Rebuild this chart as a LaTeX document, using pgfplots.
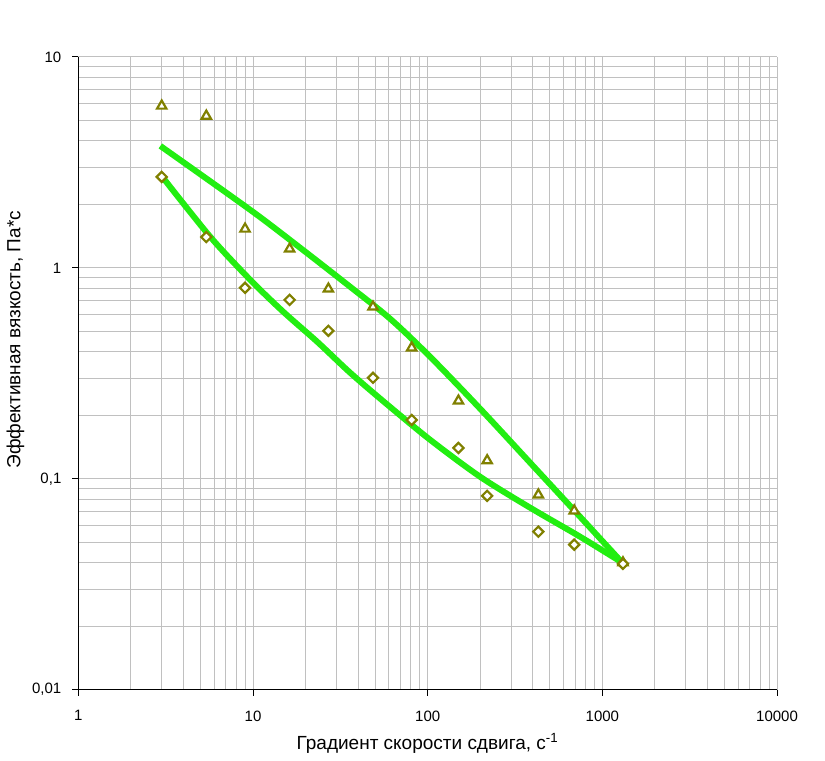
\documentclass[border=0pt]{standalone}
\usepackage{fontspec}
\setmainfont{Liberation Sans}
\usepackage{pgfplots}
\pgfplotsset{compat=1.18}
\definecolor{fitgreen}{RGB}{34,238,17}
\definecolor{markolive}{RGB}{128,128,0}
\definecolor{gridgray}{RGB}{192,192,192}

\begin{document}
\begin{tikzpicture}
\begin{axis}[
  scale only axis,
  width=349.5pt, height=316.5pt,
  xmode=log, ymode=log,
  xmin=1, xmax=10000, ymin=0.01, ymax=10,
  axis x line*=bottom, axis y line*=left,
  axis line style={-, black, line width=0.6pt},
  tick align=outside,
  major tick length=3pt, minor tick length=0pt,
  tick style={black, line width=0.5pt},
  grid=both,
  major grid style={gridgray, line width=0.5pt},
  minor grid style={gridgray, line width=0.5pt},
  xtick={1,10,100,1000,10000},
  xticklabels={1,10,100,1000,10000},
  ytick={0.01,0.1,1,10},
  yticklabels={{0,01},{0,1},1,10},
  ticklabel style={font=\fontsize{7.5}{9}\selectfont},
  xticklabel style={yshift=-4pt},
  yticklabel style={xshift=-2pt},
  xlabel={Градиент скорости сдвига, с\textsuperscript{-1}},
  ylabel={Эффективная вязкость, Па*с},
  label style={font=\fontsize{9.5}{11}\selectfont},
  xlabel style={at={(axis description cs:0.5,-0.085)}, anchor=center},
  ylabel style={at={(axis description cs:-0.09,0.553)}, anchor=center},
  clip=false,
]
% triangles
\addplot[only marks, mark=triangle*, mark size=2.7pt,
  mark options={draw=markolive, fill=white, line width=1.1pt}] coordinates {
  (3,5.86) (5.4,5.25) (9,1.53) (16.2,1.23) (27,0.795) (48.6,0.653)
  (81,0.418) (150,0.234) (219,0.122) (430,0.0839) (690,0.0705) (1312,0.040)
};
% upper fit line
\addplot[fitgreen, line width=3pt, smooth, tension=0.5] coordinates {
  (2.946,3.786) (9.645,1.883) (18.64,1.244) (36.02,0.8128) (61.0,0.5733)
  (103.3,0.3787) (199.7,0.2148) (386.1,0.1191) (746,0.0660) (1300,0.0400)
};
% lower fit line
\addplot[fitgreen, line width=3pt, smooth, tension=0.5] coordinates {
  (3.025,2.700) (5.693,1.403) (9.645,0.877) (14.90,0.619) (23.32,0.446)
  (36.02,0.318) (57.1,0.2291) (103.3,0.1530) (199.7,0.1022) (386.1,0.0729)
  (746,0.0531) (1300,0.0400)
};
% diamonds
\addplot[only marks, mark=square*, mark size=1.8pt,
  mark options={rotate=45, draw=markolive, fill=white, line width=1.1pt}] coordinates {
  (3,2.70) (5.4,1.40) (9,0.804) (16.2,0.705) (27,0.503) (48.6,0.301)
  (81,0.190) (150,0.140) (219,0.083) (430,0.0561) (690,0.0487) (1312,0.0395)
};
\end{axis}
\useasboundingbox ([shift={(-39pt,-34pt)}]current axis.south west)
  rectangle ([shift={(24pt,28.5pt)}]current axis.north east);
\end{tikzpicture}
\end{document}
